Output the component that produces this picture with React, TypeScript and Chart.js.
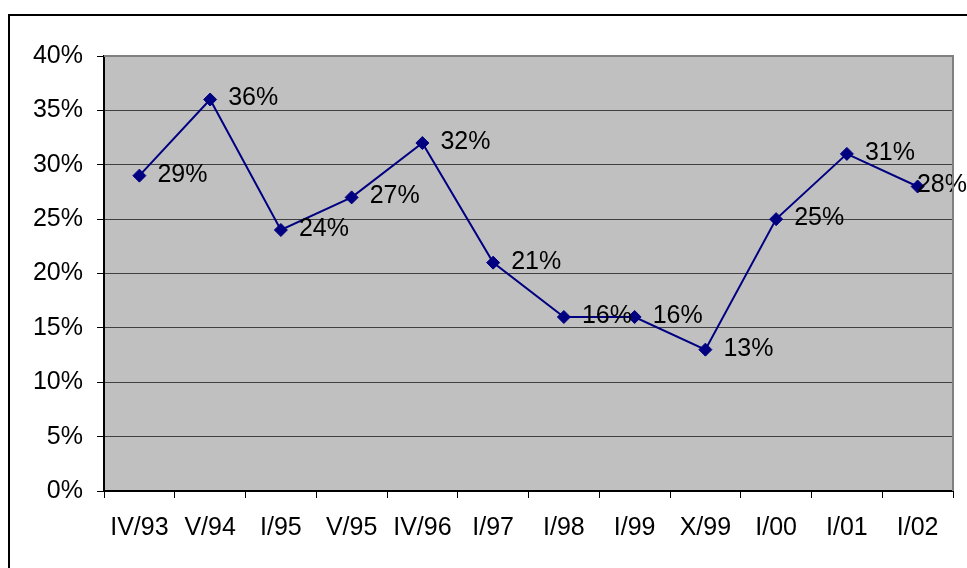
import React, { useEffect, useRef } from "react";
import { Chart, registerables } from "chart.js";

Chart.register(...registerables);

const categories: string[] = ["IV/93", "V/94", "I/95", "V/95", "IV/96", "I/97", "I/98", "I/99", "X/99", "I/00", "I/01", "I/02"];
const values: number[] = [29, 36, 24, 27, 32, 21, 16, 16, 13, 25, 31, 28];
const yMin = 0;
const yMax = 40;
const yStep = 5;

const FONT = "'Liberation Sans', Arial, sans-serif";
const FONT_SIZE = 25;

const framePlugin = {
  id: "framePlugin",
  beforeDraw(chart: any) {
    const { ctx, chartArea } = chart;
    ctx.save();
    ctx.fillStyle = "#ffffff";
    ctx.fillRect(0, 0, chart.width, chart.height);
    ctx.fillStyle = "#C0C0C0";
    ctx.fillRect(chartArea.left, chartArea.top, chartArea.right - chartArea.left, chartArea.bottom - chartArea.top);
    ctx.strokeStyle = "#000000";
    ctx.lineWidth = 2;
    ctx.strokeRect(9, 15, chart.width + 20, chart.height + 20);
    ctx.restore();
  },
  afterDraw(chart: any) {
    const { ctx, chartArea } = chart;
    ctx.save();
    ctx.strokeStyle = "#808080";
    ctx.lineWidth = 2;
    ctx.beginPath();
    ctx.moveTo(chartArea.left, chartArea.top);
    ctx.lineTo(chartArea.right, chartArea.top);
    ctx.lineTo(chartArea.right, chartArea.bottom);
    ctx.stroke();
    ctx.restore();
  },
};

const labelPlugin = {
  id: "labelPlugin",
  afterDatasetsDraw(chart: any) {
    const { ctx } = chart;
    const meta = chart.getDatasetMeta(0);
    ctx.save();
    ctx.font = `${FONT_SIZE}px ${FONT}`;
    ctx.fillStyle = "#000000";
    ctx.textAlign = "left";
    ctx.textBaseline = "middle";
    meta.data.forEach((pt: any, i: number) => {
      const text = `${values[i]}%`;
      const w = ctx.measureText(text).width;
      let x = pt.x + 18;
      if (x + w > chart.width) x = chart.width - w;
      ctx.fillText(text, x, pt.y - 1);
    });
    ctx.restore();
  },
};

export default function App() {
  const ref = useRef<HTMLCanvasElement>(null);
  useEffect(() => {
    if (!ref.current) return;
    const chart = new Chart(ref.current, {
      type: "line",
      data: {
        labels: categories,
        datasets: [
          {
            data: values,
            borderColor: "#000080",
            backgroundColor: "#000080",
            borderWidth: 2,
            pointStyle: "rectRot",
            pointRadius: 6.5,
            pointBorderWidth: 1,
            pointBackgroundColor: "#000080",
            pointBorderColor: "#000080",
            tension: 0,
          },
        ],
      },
      options: {
        responsive: false,
        animation: false,
        events: [],
        layout: { padding: { left: 0, top: 56, right: 14, bottom: 0 } },
        plugins: { legend: { display: false }, tooltip: { enabled: false } },
        scales: {
          x: {
            type: "category",
            offset: true,
            afterFit: (s: any) => {
              s.height = 77;
            },
            grid: {
              offset: true,
              drawOnChartArea: false,
              drawTicks: true,
              tickLength: 7,
              tickColor: "#000000",
              lineWidth: 1,
            },
            border: { display: true, color: "#000000", width: 2 },
            ticks: {
              color: "#000000",
              font: { family: FONT, size: FONT_SIZE },
              padding: 15,
              maxRotation: 0,
              autoSkip: false,
            },
          },
          y: {
            min: yMin,
            max: yMax,
            afterFit: (s: any) => {
              s.width = 104;
            },
            grid: {
              color: "#404040",
              lineWidth: 1,
              drawTicks: true,
              tickLength: 7,
              tickColor: "#000000",
            },
            border: { display: true, color: "#000000", width: 2 },
            ticks: {
              stepSize: yStep,
              color: "#000000",
              font: { family: FONT, size: FONT_SIZE },
              padding: 14,
              callback: (v: any) => `${v}%`,
            },
          },
        },
      },
      plugins: [framePlugin, labelPlugin],
    });
    return () => chart.destroy();
  }, []);
  return (
    <canvas
      ref={ref}
      width={967}
      height={568}
      style={{ position: "absolute", left: 0, top: 0, width: 967, height: 568, display: "block" }}
    />
  );
}
